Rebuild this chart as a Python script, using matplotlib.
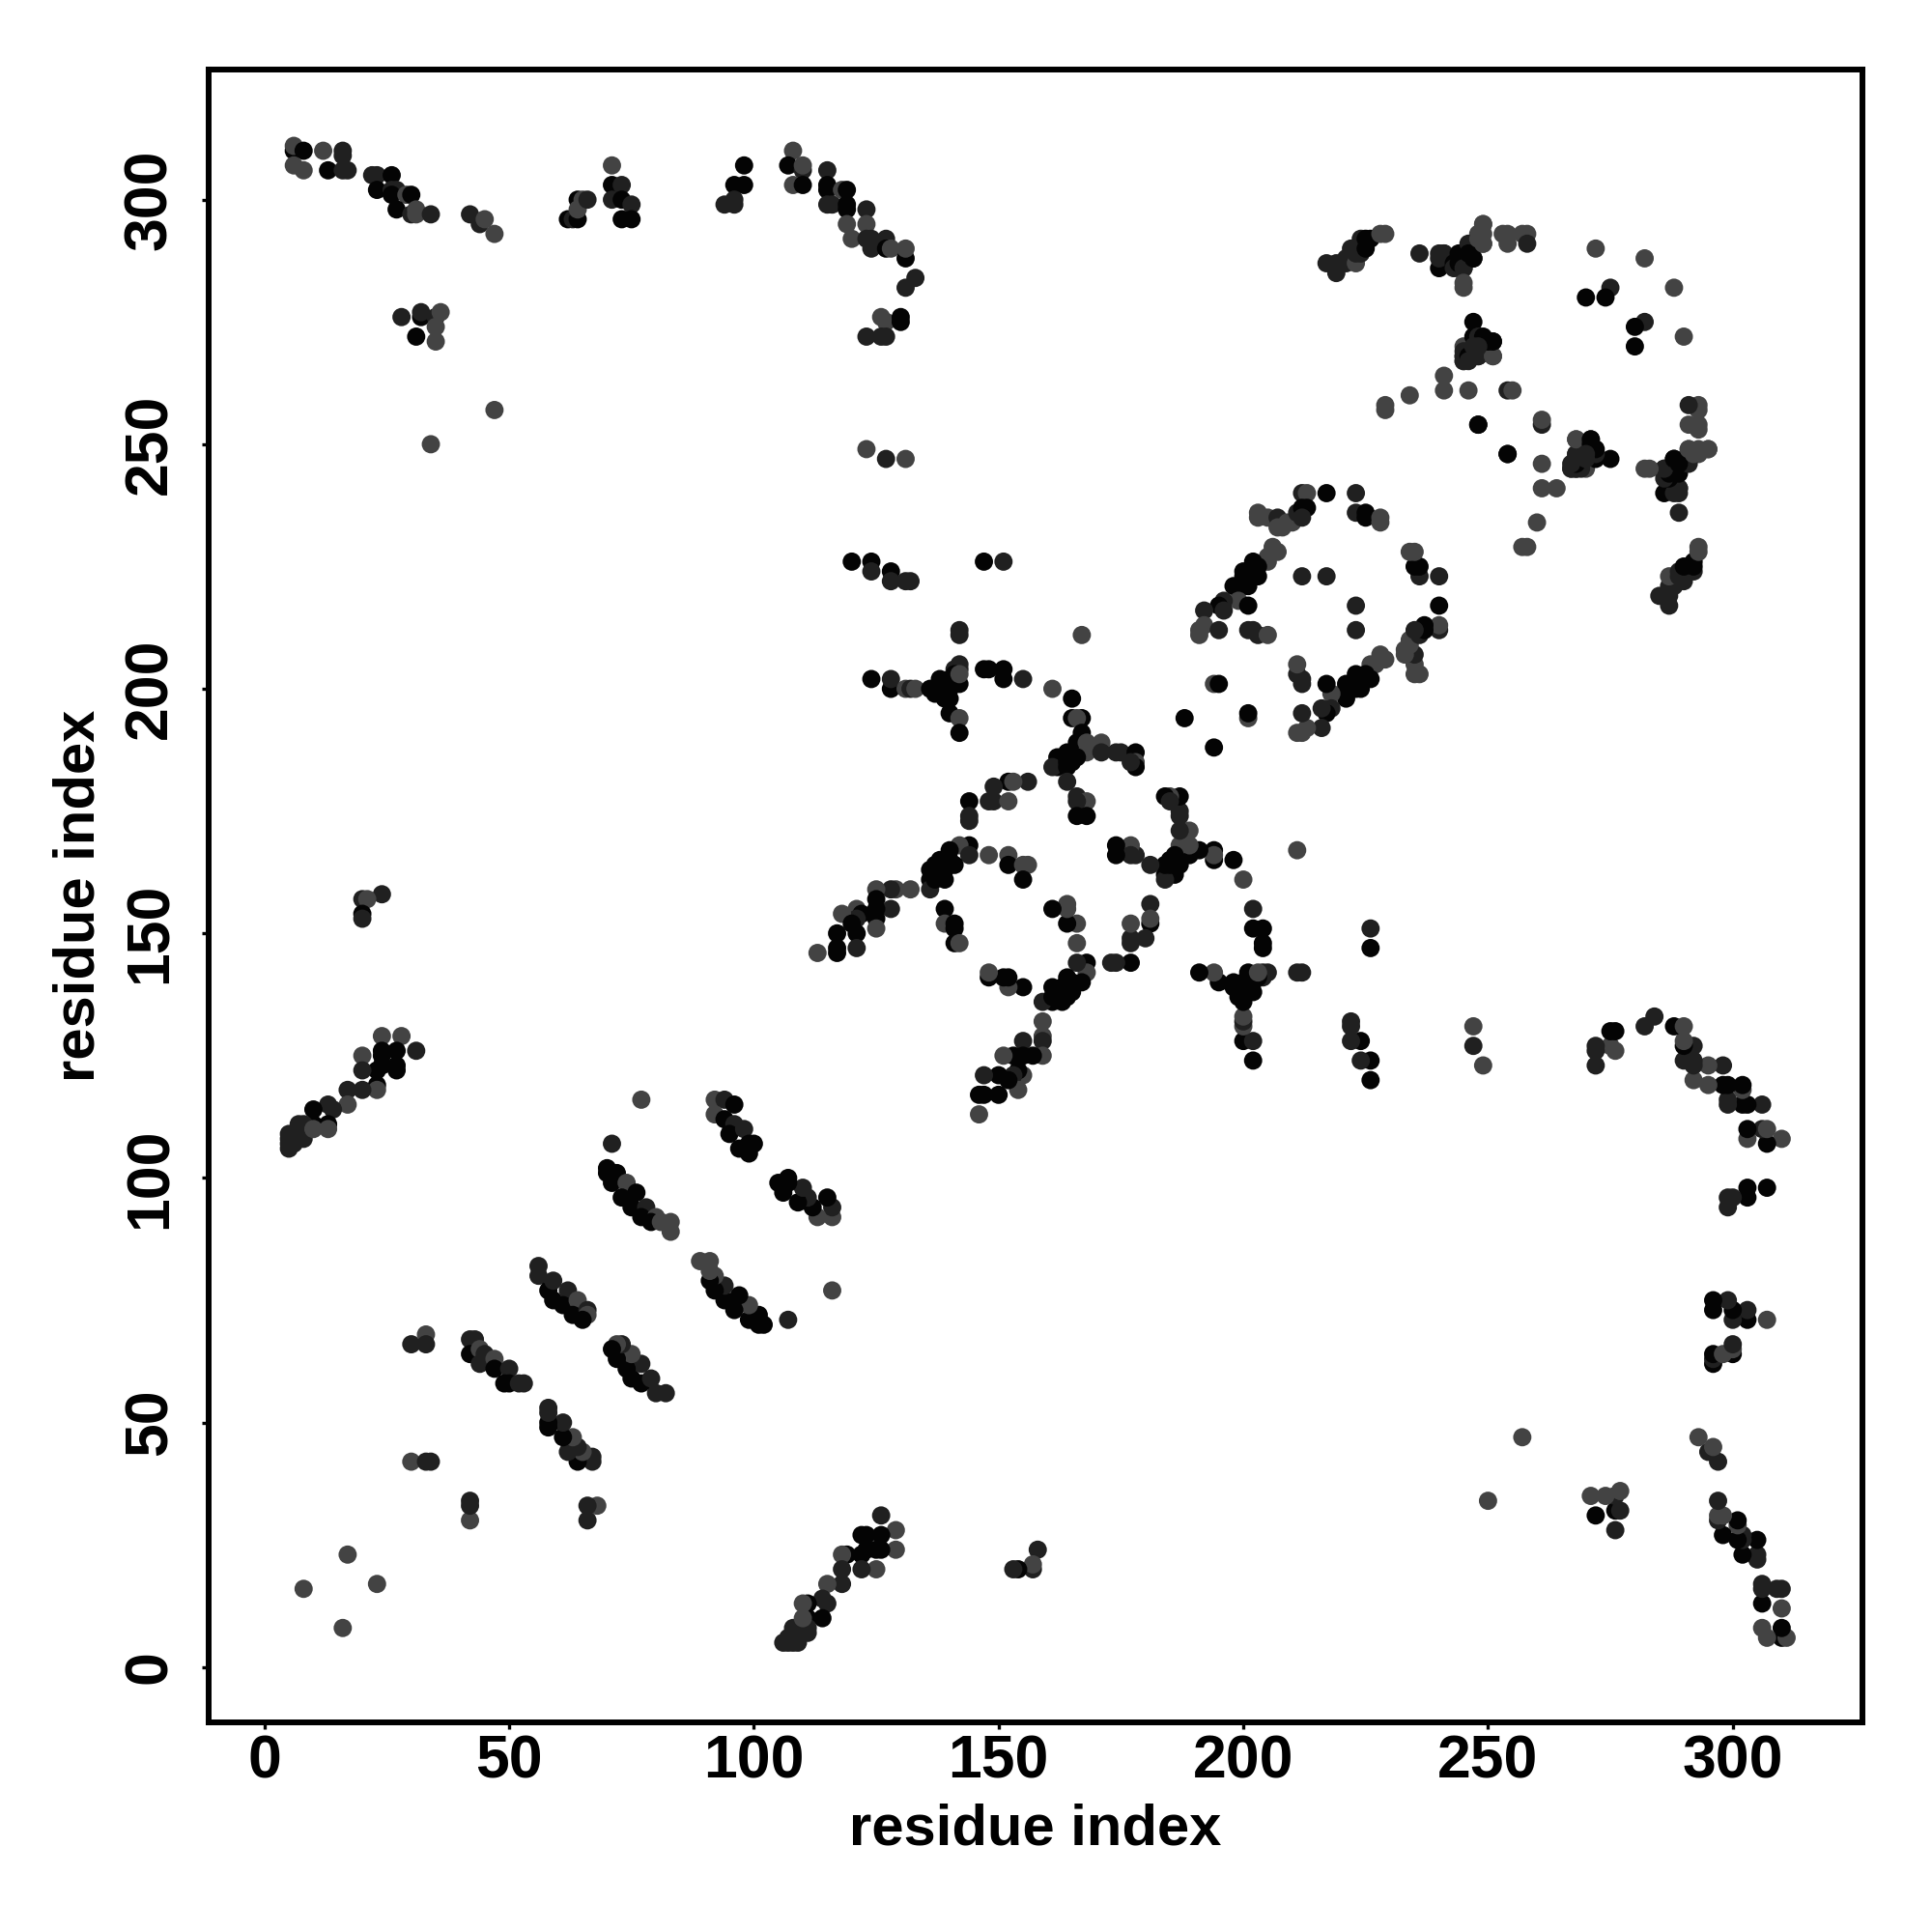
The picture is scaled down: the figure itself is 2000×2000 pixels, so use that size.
import matplotlib
matplotlib.use("Agg")
import matplotlib.pyplot as plt

GRAYS = {0: "#040404", 1: "#202020", 2: "#434343"}

# (residue i, residue j, shade level); each contact is shown at (i,j) and (j,i)
top_left = [(6,310,0),(6,311,2),(8,310,0),(12,310,2),(16,310,1),(16,309,1),(6,307,2),(8,306,2),(13,306,0),(16,306,1),(17,306,1),
 (22,305,1),(23,305,1),(26,305,0),(23,302,0),(26,302,1),(27,302,1),(26,301,0),(29,301,2),(30,301,0),(27,298,0),(30,297,1),(31,297,2),(31,298,2),(34,297,1),
 (42,297,1),(44,295,1),(45,296,2),(47,293,2),(62,296,0),(63,296,1),(64,296,0),(64,300,0),(64,298,2),(65,300,2),(66,300,1),
 (71,307,2),(71,303,0),(73,303,1),(71,300,1),(73,300,0),(75,299,1),(73,296,0),(75,296,0),
 (28,276,1),(32,276,0),(32,277,1),(35,276,1),(36,277,2),(35,274,2),(31,272,0),(35,271,2),(47,257,2),(34,250,2)]

top_mid = [(98,307,0),(96,303,0),(98,303,0),(94,299,1),(96,299,1),(96,300,1),(108,310,2),(107,307,0),(110,306,1),(110,307,2),(108,303,2),(110,303,0),
 (115,306,1),(115,303,0),(115,302,0),(115,299,1),(116,299,1),(118,302,2),(119,302,0),(119,299,0),(119,298,0),(119,295,2),(120,292,2),(123,298,1),(123,295,2),
 (123,292,1),(124,292,1),(124,290,1),(127,292,1),(127,290,0),(128,290,2),(131,288,0),(131,290,2),(133,284,1),(131,282,1),
 (126,276,2),(127,275,2),(130,276,0),(130,275,0),(123,272,1),(126,272,1),(127,272,1),(123,249,2),(127,247,1),(131,247,2),
 (120,226,0),(124,226,0),(124,224,1),(128,224,0),(128,222,1),(131,222,1),(132,222,1),(147,226,0),(151,226,1)]

upper_cluster = [(240,286,0),(240,288,1),(241,289,1),(244,286,0),(244,287,1),(245,286,1),(245,288,0),(246,289,0),(247,288,0),(247,291,2),(248,291,1),(248,293,2),(249,291,2),(249,295,2),
 (245,267,2),(245,268,1),(246,268,1),(246,270,1),(247,269,1),(248,268,1),(248,270,0),(248,272,0),(250,271,0),(251,271,0),(251,268,2)]

top_right = [(217,287,1),(219,287,1),(219,285,1),(221,287,1),(221,288,1),(222,290,1),(223,287,2),(223,289,1),(224,292,1),(224,289,1),(225,292,0),(225,290,0),(226,292,0),(228,293,2),(229,293,2),
 (236,289,1),(240,289,1),(241,289,1),(243,287,0),(243,286,1),(244,289,0),(244,287,0),(245,286,1),(245,283,2),(245,282,2),(246,291,1),(246,289,0),(247,288,0),(248,292,2),(249,295,2),(249,293,2),(249,291,2),
 (253,293,2),(254,293,2),(254,291,2),(257,293,2),(258,293,2),(258,291,1),(272,290,2),(282,288,2),(275,282,1),(274,280,0),(270,280,0),
 (245,270,2),(245,269,1),(245,268,1),(245,267,1),(246,268,0),(246,267,1),(248,268,1),(251,268,2),(247,275,0),(247,272,0),(248,272,1),(249,272,0),(250,271,0),(251,271,0),(248,270,1),(247,270,1),
 (241,264,2),(241,261,2),(246,261,2),(254,261,1),(255,261,2),(234,260,2),(229,258,2),(229,257,2),(248,254,0),(254,248,0)]

ring_upper = [(212,240,1),(213,240,2),(217,240,0),(223,240,1),(223,236,1),(225,236,0),(225,235,0),(228,235,2),(228,234,2),
 (203,236,2),(203,235,2),(205,235,2),(207,235,1),(207,233,2),(208,233,2),(209,234,2),(210,234,2),(211,236,1),(212,237,0),(213,237,0),(212,235,1),
 (207,228,2),(206,229,2),(205,227,2),(205,226,2),(202,226,0),(202,225,0),(203,225,0),(203,223,0),(200,224,0),(200,223,0),(201,221,0),(198,221,0),(200,221,0),
 (199,218,2),(196,218,1),(195,217,0),(196,216,1),(201,217,0),(192,216,1),(192,213,2),(191,212,2),(191,211,2),(195,212,1),(201,212,1),(202,212,1),(203,211,1),(205,211,2),
 (212,223,1),(217,223,1)]

lone_ring = [(194,201,2),(195,201,0),(188,194,0)]

centre_a = [(142,212,1),(142,211,1),(167,211,2),(124,202,0),(128,200,0),(128,202,1),(131,200,2),(132,200,1),(133,200,2),(136,200,0),(137,199,0),(138,202,0),(138,199,0),(139,198,0),(140,198,0),(140,200,0),
 (140,202,0),(142,205,1),(142,204,1),(141,204,1),(141,203,0),(142,201,0),(141,201,0),(142,203,2),(140,195,0),(142,194,2),(142,191,0),
 (147,204,0),(148,204,0),(151,204,0),(151,202,0),(155,202,1),(161,200,2),(165,198,0),(165,194,0),(167,194,0),(166,194,2),(167,191,0),(166,189,0),(168,189,2),(168,187,2),(171,189,2),(171,187,1),(174,187,1),(175,187,1),
 (178,187,0),(178,185,2),(178,184,0),(177,185,1),(164,187,0),(163,186,0),(162,186,0),(162,184,0),(161,184,1),(164,185,0),(166,186,0),(165,185,0),(164,184,0),(164,181,1),
 (166,178,1),(168,177,2),(166,177,1),(166,174,0),(168,174,0),(156,181,1),(152,181,0),(153,181,2),(149,180,1),(148,177,1),(149,177,1),(152,177,2),(144,177,0),(144,174,1),(144,173,1)]

centre_b = [(144,168,0),(142,168,2),(144,166,1),(148,166,2),(152,166,2),(152,164,0),(155,164,2),(156,164,2),(155,161,0),(140,167,0),(140,165,0),(141,164,0),(138,165,0),(137,164,0),(139,163,0),(136,163,0),
 (139,161,0),(136,161,0),(136,159,1),(137,161,0),(132,159,2),(129,159,2),(128,159,1),(125,159,2),(125,157,0),(128,155,1),(125,155,0),(125,153,0),(125,151,2),(121,155,2),(122,154,0),(121,153,1),(118,154,2),
 (117,150,0),(120,152,0),(121,150,0),(117,147,0),(117,146,0),(121,147,1),(113,146,2),(139,155,0),(139,152,2),(141,152,0),(141,151,0),(141,148,0),(142,148,2),
 (173,144,0),(174,144,0),(177,144,0),(177,152,1),(177,149,1),(177,148,1),(180,149,1),(181,156,1),(181,153,2),(181,152,0)]
centre_b = [p for p in centre_b if p[0] < p[1]]

lower_left = [(24,158,1),(20,157,1),(21,157,2),(20,154,0),(20,153,1),(24,129,2),(28,129,2),(20,125,2),(24,126,0),(24,125,0),(27,126,0),(31,126,1),(27,123,0),(27,122,0),(23,122,0),(24,123,0),(20,122,1),
 (23,119,0),(23,118,2),(20,118,1),(17,118,1),(17,115,2),(13,115,1),(14,114,1),(10,114,0),(10,111,0),(13,111,0),(13,110,2),(8,111,1),(8,110,1),(7,111,1),(6,108,1),(5,109,1),(5,108,1),(5,107,1),(5,106,1),(6,107,1),(8,108,1),(10,110,2),
 (8,16,2),(17,23,2),(30,66,1),(33,68,2),(33,66,1),(30,42,2),(33,42,1),(34,42,1)]

bands = [(42,67,1),(43,67,1),(42,64,0),(44,65,2),(45,64,1),(44,62,1),(47,63,2),(47,61,0),(50,61,1),(49,58,0),(50,58,0),(52,58,1),(53,58,1),
 (56,82,1),(56,80,1),(58,77,0),(59,79,1),(59,75,0),(62,77,1),(61,74,0),(64,75,2),(63,72,0),(66,73,1),(66,72,2),(65,71,0),
 (70,102,0),(70,101,0),(72,101,0),(71,99,0),(74,99,2),(73,96,0),(76,97,0),(75,94,0),(78,94,1),(77,92,0),(80,92,2),(79,91,0),(81,91,2),(83,91,2),(83,89,2),
 (71,107,1),(77,116,2),
 (92,116,2),(94,116,1),(96,115,0),(92,113,2),(94,112,0),(96,111,1),(95,109,0),(98,110,1),(97,106,0),(99,107,0),(100,107,0),(99,105,0)]

tick_values = [0, 50, 100, 150, 200, 250, 300]
axis_title = "residue index"

groups = [top_left, top_mid, upper_cluster, top_right, ring_upper, lone_ring, centre_a, centre_b, lower_left, bands]

plt.rcParams["font.family"] = ["Liberation Sans", "DejaVu Sans"]
fig = plt.figure(figsize=(20, 20), dpi=100)
ax = fig.add_axes([216/2000, 1 - 1783/2000, (1928-216)/2000, (1783-72)/2000])

xs, ys, cs = [], [], []
for group in groups:
    for i, j, shade in group:
        xs += [i, j]
        ys += [j, i]
        cs += [GRAYS[shade], GRAYS[shade]]
ax.scatter(xs, ys, s=185, c=cs, linewidths=0, zorder=3)

ax.set_xlim(-11.4, 326.5)
ax.set_ylim(-11.3, 326.6)
ax.set_xticks(tick_values)
ax.set_yticks(tick_values)
ax.tick_params(axis="x", length=5, width=2.4, labelsize=45, pad=3)
ax.tick_params(axis="y", length=5, width=2.4, labelsize=45, pad=17)
for lab in ax.get_xticklabels():
    lab.set_fontweight("bold")
for lab in ax.get_yticklabels():
    lab.set_fontweight("bold")
    lab.set_rotation(90)
    lab.set_va("center")
ax.set_xlabel(axis_title, fontsize=43, fontweight="bold", labelpad=10)
ax.set_ylabel(axis_title, fontsize=43, fontweight="bold", labelpad=12)
for s in ax.spines.values():
    s.set_linewidth(4.3)
fig.savefig("out.png", dpi=100)
